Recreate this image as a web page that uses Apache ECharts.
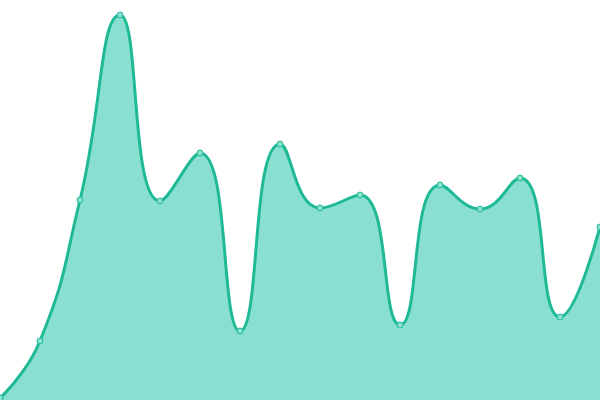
<!DOCTYPE html>
<html>
<head>
<meta charset="utf-8">
<script src="https://cdn.jsdelivr.net/npm/echarts@6/dist/echarts.min.js"></script>
<style>
  html, body { margin: 0; padding: 0; background: #fff; }
  #main { width: 600px; height: 400px; }
</style>
</head>
<body>
<div id="main"></div>
<script>
// x categories, one point every 40px
const categories = ['1', '2', '3', '4', '5', '6', '7', '8', '9', '10', '11', '12', '13', '14', '15', '16'];
// series values
const values = [2, 59, 200, 385, 199, 247, 69, 256, 192, 205, 75, 215, 191, 222, 83, 173];

const chart = echarts.init(document.getElementById('main'));
chart.setOption({
  animation: false,
  grid: { left: 0, right: 0, top: 0, bottom: 0 },
  xAxis: {
    type: 'category',
    boundaryGap: false,
    data: categories,
    show: false
  },
  yAxis: {
    type: 'value',
    min: 0,
    max: 400,
    show: false
  },
  series: [{
    type: 'line',
    smooth: true,
    data: values,
    symbol: 'circle',
    symbolSize: 6,
    lineStyle: { color: '#1fba95', width: 3 },
    itemStyle: { color: '#8ae0d0', borderColor: '#1fba95', borderWidth: 1 },
    areaStyle: { color: '#8ae0d0', opacity: 1 }
  }]
});
</script>
</body>
</html>
